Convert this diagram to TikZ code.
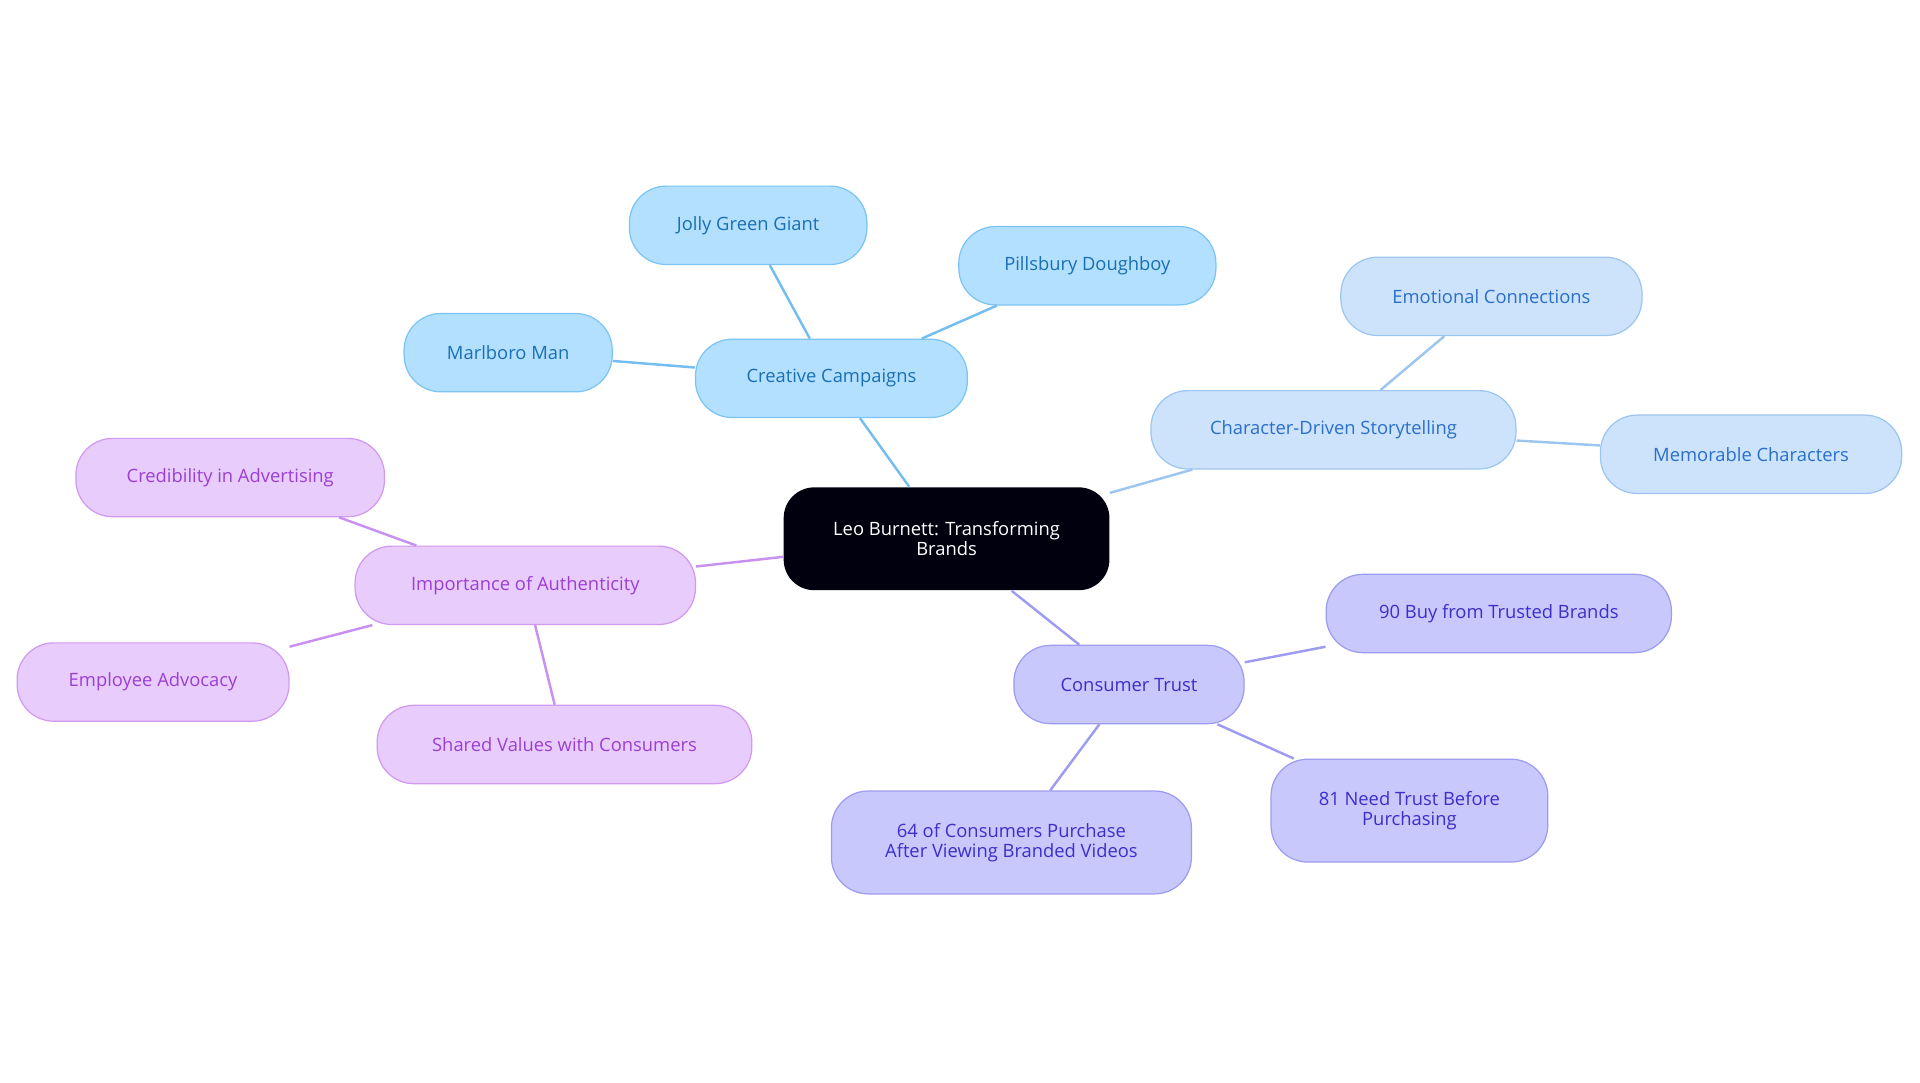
\documentclass[tikz,border=0pt]{standalone}
\usepackage{fontspec}
\setmainfont{Open Sans}
\begin{document}
\begin{tikzpicture}[x=1pt,y=-1pt,
 base/.style={rounded corners=30pt,draw,line width=1pt,align=center,font=\fontsize{15}{16}\selectfont,inner sep=0pt,minimum height=64pt},
 cc/.style={base,fill=cF,draw=cD,text=cT},
 ss/.style={base,fill=sF,draw=sD,text=sT},
 tt/.style={base,fill=tF,draw=tD,text=tT},
 pp/.style={base,fill=pF,draw=pD,text=pT},
 ec/.style={line width=2pt,draw=cL},
 es/.style={line width=2pt,draw=sL},
 et/.style={line width=2pt,draw=tL},
 ep/.style={line width=2pt,draw=pL}]
\definecolor{cF}{HTML}{B3E0FF}\definecolor{cD}{HTML}{7CC4F4}\definecolor{cT}{HTML}{1A6FB5}\definecolor{cL}{HTML}{74BDF0}
\definecolor{sF}{HTML}{CCE3FB}\definecolor{sD}{HTML}{9CC5F0}\definecolor{sT}{HTML}{2A6FC9}\definecolor{sL}{HTML}{9CC5F0}
\definecolor{tF}{HTML}{C8C8FC}\definecolor{tD}{HTML}{9D9CF0}\definecolor{tT}{HTML}{3B2FC9}\definecolor{tL}{HTML}{9D9CF0}
\definecolor{pF}{HTML}{E8CCFC}\definecolor{pD}{HTML}{D09AF0}\definecolor{pT}{HTML}{9B3FD4}\definecolor{pL}{HTML}{C890F0}
\useasboundingbox (0,0) rectangle (1568,884);
\node[base,rounded corners=25pt,fill=black!90!blue!60!black,draw=none,text=white,minimum width=266pt,minimum height=84pt] (root) at (773,440) {Leo Burnett: Transforming\\Brands};
\node[cc,minimum width=222pt] (cc) at (679,309) {Creative Campaigns};
\node[cc,minimum width=194pt] (jg) at (611,184) {Jolly Green Giant};
\node[cc,minimum width=210pt] (pd) at (888,217) {Pillsbury Doughboy};
\node[cc,minimum width=170pt] (mm) at (415,288) {Marlboro Man};
\node[ss,minimum width=298pt] (cs) at (1089,351) {Character-Driven Storytelling};
\node[ss,minimum width=246pt] (ecn) at (1218,242) {Emotional Connections};
\node[ss,minimum width=246pt] (mc) at (1430,371) {Memorable Characters};
\node[pp,minimum width=278pt] (ia) at (429,478) {Importance of Authenticity};
\node[pp,minimum width=252pt] (ca) at (188,390) {Credibility in Advertising};
\node[pp,minimum width=222pt] (ea) at (125,557) {Employee Advocacy};
\node[pp,minimum width=306pt] (sv) at (461,608) {Shared Values with Consumers};
\node[tt,minimum width=188pt] (ct) at (922,559) {Consumer Trust};
\node[tt,minimum width=282pt] (b90) at (1224,501) {90 Buy from Trusted Brands};
\node[tt,minimum width=226pt,minimum height=84pt] (n81) at (1151,662) {81 Need Trust Before\\Purchasing};
\node[tt,minimum width=294pt,minimum height=84pt] (c64) at (826,688) {64 of Consumers Purchase\\After Viewing Branded Videos};
\draw[ec] (root) -- (cc); \draw[ec] (cc) -- (jg); \draw[ec] (cc) -- (pd); \draw[ec] (cc) -- (mm);
\draw[es] (root) -- (cs); \draw[es] (cs) -- (ecn); \draw[es] (cs) -- (mc);
\draw[ep] (root) -- (ia); \draw[ep] (ia) -- (ca); \draw[ep] (ia) -- (ea); \draw[ep] (ia) -- (sv);
\draw[et] (root) -- (ct); \draw[et] (ct) -- (b90); \draw[et] (ct) -- (n81); \draw[et] (ct) -- (c64);
\end{tikzpicture}
\end{document}
